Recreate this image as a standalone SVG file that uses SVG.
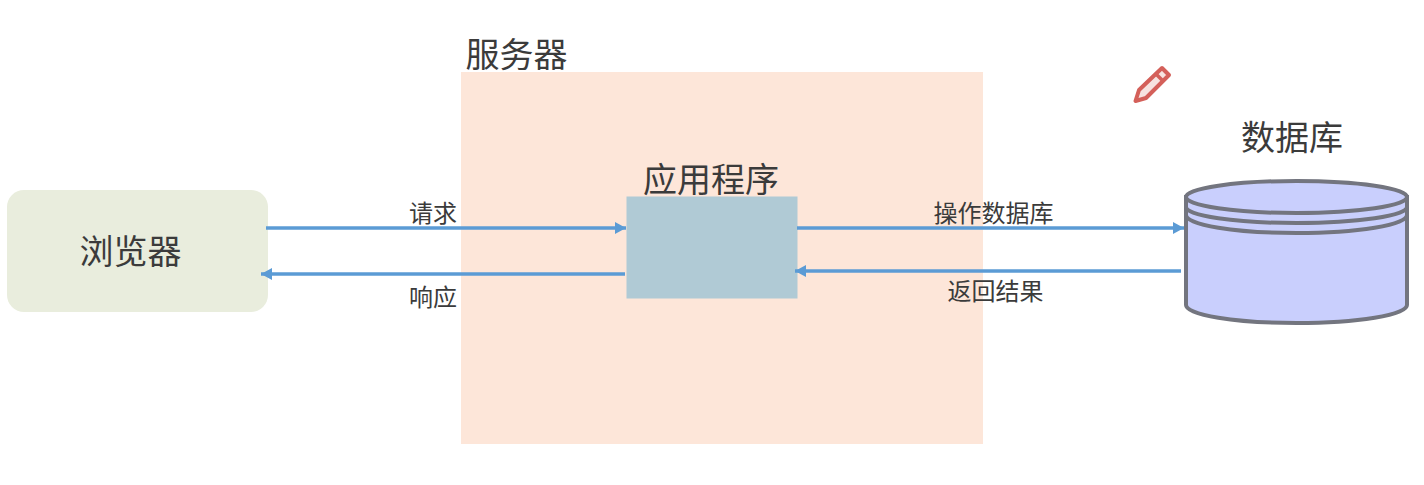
<svg xmlns="http://www.w3.org/2000/svg" width="1424" height="485" viewBox="0 0 1424 485">
<style>
text{font-family:"Noto Sans CJK SC","Noto Sans CJK JP",sans-serif;fill:#3b3b3b;text-anchor:middle;font-weight:400}
.big{font-size:34px}
.sm{font-size:24px}
.conn{stroke:#5b9bd5;stroke-width:3.5;fill:none}
.db{fill:#c9cffd;stroke:#73757f;stroke-width:4}
.dbl{fill:none;stroke:#73757f;stroke-width:4}
</style>
<defs>
<marker id="ah" markerUnits="userSpaceOnUse" markerWidth="12" markerHeight="13" refX="11" refY="6.500" orient="auto"><path d="M0 0.500L11 6.500L0 12.500z" fill="#5b9bd5"/></marker>
</defs>
<rect width="1424" height="485" fill="#fff"/>
<g id="server"><rect x="461" y="72" width="522" height="372" fill="#fde6d9"/><text class="big" x="516.500" y="67">服务器</text></g>
<g id="browser"><rect x="7" y="190" width="261" height="122" rx="17" fill="#e9eddd"/><text class="big" x="130.500" y="264">浏览器</text></g>
<g id="app"><rect x="626.500" y="196.500" width="171" height="102" fill="#b0cad5"/><text class="big" x="711" y="192">应用程序</text></g>
<g id="database">
<path class="db" d="M1186 197V305A110.500 18 0 0 0 1407 305V197z"/>
<ellipse class="db" cx="1296.500" cy="197" rx="110.500" ry="16"/>
<path class="dbl" d="M1186 207A110.500 16 0 0 0 1407 207M1186 215A110.500 18 0 0 0 1407 215"/>
<text class="big" x="1292" y="150">数据库</text>
</g>
<g id="pencil" fill="none" stroke="#d4605a" stroke-linejoin="round">
<path d="M1135.500 101L1139 90L1162 68L1169 75L1146 98z" stroke-width="4" fill="#f7e3e0"/>
<path d="M1156 74L1163 81" stroke-width="3.500"/>
</g>
<g id="connectors">
<path class="conn" d="M266 228H626" marker-end="url(#ah)"/>
<path class="conn" d="M625 274H261" marker-end="url(#ah)"/>
<path class="conn" d="M797 228H1184" marker-end="url(#ah)"/>
<path class="conn" d="M1181 271H795" marker-end="url(#ah)"/>
</g>
<g id="labels">
<text class="sm" x="433" y="222">请求</text>
<text class="sm" x="433" y="306">响应</text>
<text class="sm" x="993.500" y="222">操作数据库</text>
<text class="sm" x="995.500" y="300">返回结果</text>
</g>
</svg>
